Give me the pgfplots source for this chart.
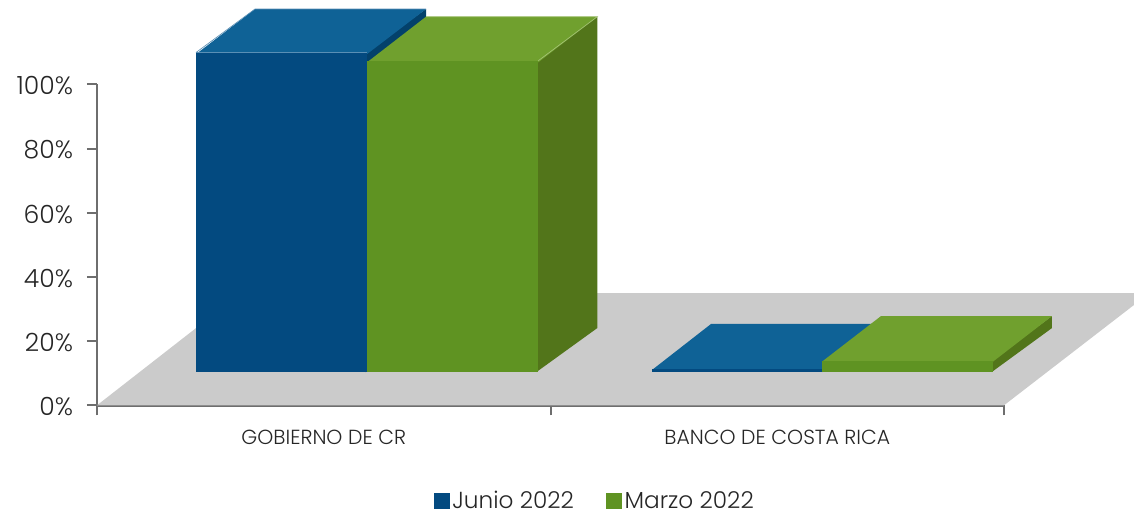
\documentclass[border=0pt]{standalone}
\usepackage{fontspec}
\setmainfont{Poppins}[UprightFont=* Light]
\usepackage{pgfplots}
\pgfplotsset{compat=1.18}

\definecolor{floorgray}{HTML}{CBCBCB}
\definecolor{axisgray}{HTML}{6E6E6E}
\definecolor{bluefront}{HTML}{034A80}
\definecolor{bluetop}{HTML}{0F6296}
\definecolor{blueside}{HTML}{03416B}
\definecolor{blueedge}{HTML}{5A8FB5}
\definecolor{greenfront}{HTML}{5F9322}
\definecolor{greentop}{HTML}{70A02E}
\definecolor{greenside}{HTML}{52751A}
\definecolor{greenedge}{HTML}{A3C274}

\pgfplotsset{
  face/.style={fill=#1, draw=none, forget plot},
  edge/.style={draw=#1, line width=0.5pt, forget plot},
  swatch/.style={legend image code/.code={
    \fill[##1, draw=none] (-1pt,-6pt) rectangle (11pt,6pt);}},
}

\begin{document}
\begin{tikzpicture}
% 1 px of the reference = 0.75pt
\path[use as bounding box] (-72.75pt,-82.275pt) rectangle (777.75pt,303.975pt);
\begin{axis}[
    scale only axis,
    width=680.25pt, height=240.75pt,
    xmin=0, xmax=2, ymin=0, ymax=100,
    clip=false,
    axis lines*=left,
    axis line style={-, draw=axisgray, line width=1.9pt},
    every tick/.append style={draw=axisgray, line width=1.5pt},
    major tick length=7.5pt,
    tick align=outside,
    xtick={0,1,2},
    xticklabels={},
    extra x ticks={0.5,1.5},
    extra x tick labels={GOBIERNO DE CR, BANCO DE COSTA RICA},
    extra x tick style={major tick length=0pt,
      ticklabel style={font=\fontsize{15.3}{18}\selectfont, text=black!85, yshift=-14.7pt}},
    ytick={0,20,40,60,80,100},
    yticklabel={\pgfmathprintnumber{\tick}\%},
    yticklabel style={font=\fontsize{18.8}{22}\selectfont, text=black!85, xshift=-7pt, yshift=-1pt},
    /pgf/number format/assume math mode=true,
    legend columns=2,
    legend style={at={(0.5491,-0.298)}, anchor=center, draw=none, fill=none,
      font=\fontsize{17.4}{20}\selectfont, text=black!85,
      /tikz/every even column/.append style={column sep=22pt}},
  ]
  % floor
  \addplot[face=floorgray] coordinates {(0,0) (2,0) (2.2866,31.25) (2.2866,34.98) (0.3175,34.98)} -- cycle;

  % GOBIERNO DE CR, Junio 2022
  \addplot[face=blueside] coordinates {(0.592,10.37) (0.7255,24.07) (0.7255,123.45) (0.592,109.9)} -- cycle;
  \addplot[face=bluetop] coordinates {(0.2183,109.4) (0.3484,123.45) (0.7255,123.45) (0.5954,109.4)} -- cycle;
  \addplot[face=bluefront] coordinates {(0.2183,10.37) (0.5954,10.37) (0.5954,109.9) (0.2183,109.9)} -- cycle;
  \addplot[edge=blueedge] coordinates {(0.2183,109.9) (0.5954,109.9)};
  \addplot[edge=blueedge] coordinates {(0.2183,109.9) (0.3484,123.45) (0.7255,123.45)};

  % GOBIERNO DE CR, Marzo 2022
  \addplot[face=greenside] coordinates {(0.969,10.37) (1.1032,24.07) (1.1032,121.06) (0.969,107.35)} -- cycle;
  \addplot[face=greentop] coordinates {(0.5954,106.85) (0.7255,121.06) (1.1032,121.06) (0.9731,106.85)} -- cycle;
  \addplot[face=greenfront] coordinates {(0.5954,10.37) (0.9731,10.37) (0.9731,107.35) (0.5954,107.35)} -- cycle;
  \addplot[edge=greenedge] coordinates {(0.7255,121.06) (1.1032,121.06) (0.9731,107.35)};

  % BANCO DE COSTA RICA, Junio 2022
  \addplot[face=blueside] coordinates {(1.5987,10.37) (1.7288,24.07) (1.7288,25.33) (1.5987,11.2)} -- cycle;
  \addplot[face=bluetop] coordinates {(1.2238,11.0) (1.3539,25.33) (1.7288,25.33) (1.5987,11.0)} -- cycle;
  \addplot[face=bluefront] coordinates {(1.2238,10.37) (1.5987,10.37) (1.5987,11.2) (1.2238,11.2)} -- cycle;

  % BANCO DE COSTA RICA, Marzo 2022
  \addplot[face=greenside] coordinates {(1.973,10.37) (2.1058,24.07) (2.1058,27.8) (1.973,13.9)} -- cycle;
  \addplot[face=greentop] coordinates {(1.5987,13.6) (1.7288,27.8) (2.1058,27.8) (1.9757,13.6)} -- cycle;
  \addplot[face=greenfront] coordinates {(1.5987,10.37) (1.9757,10.37) (1.9757,13.9) (1.5987,13.9)} -- cycle;

  \addlegendimage{swatch, fill=bluefront}
  \addlegendentry{Junio 2022}
  \addlegendimage{swatch, fill=greenfront}
  \addlegendentry{Marzo 2022}
\end{axis}
\end{tikzpicture}
\end{document}
